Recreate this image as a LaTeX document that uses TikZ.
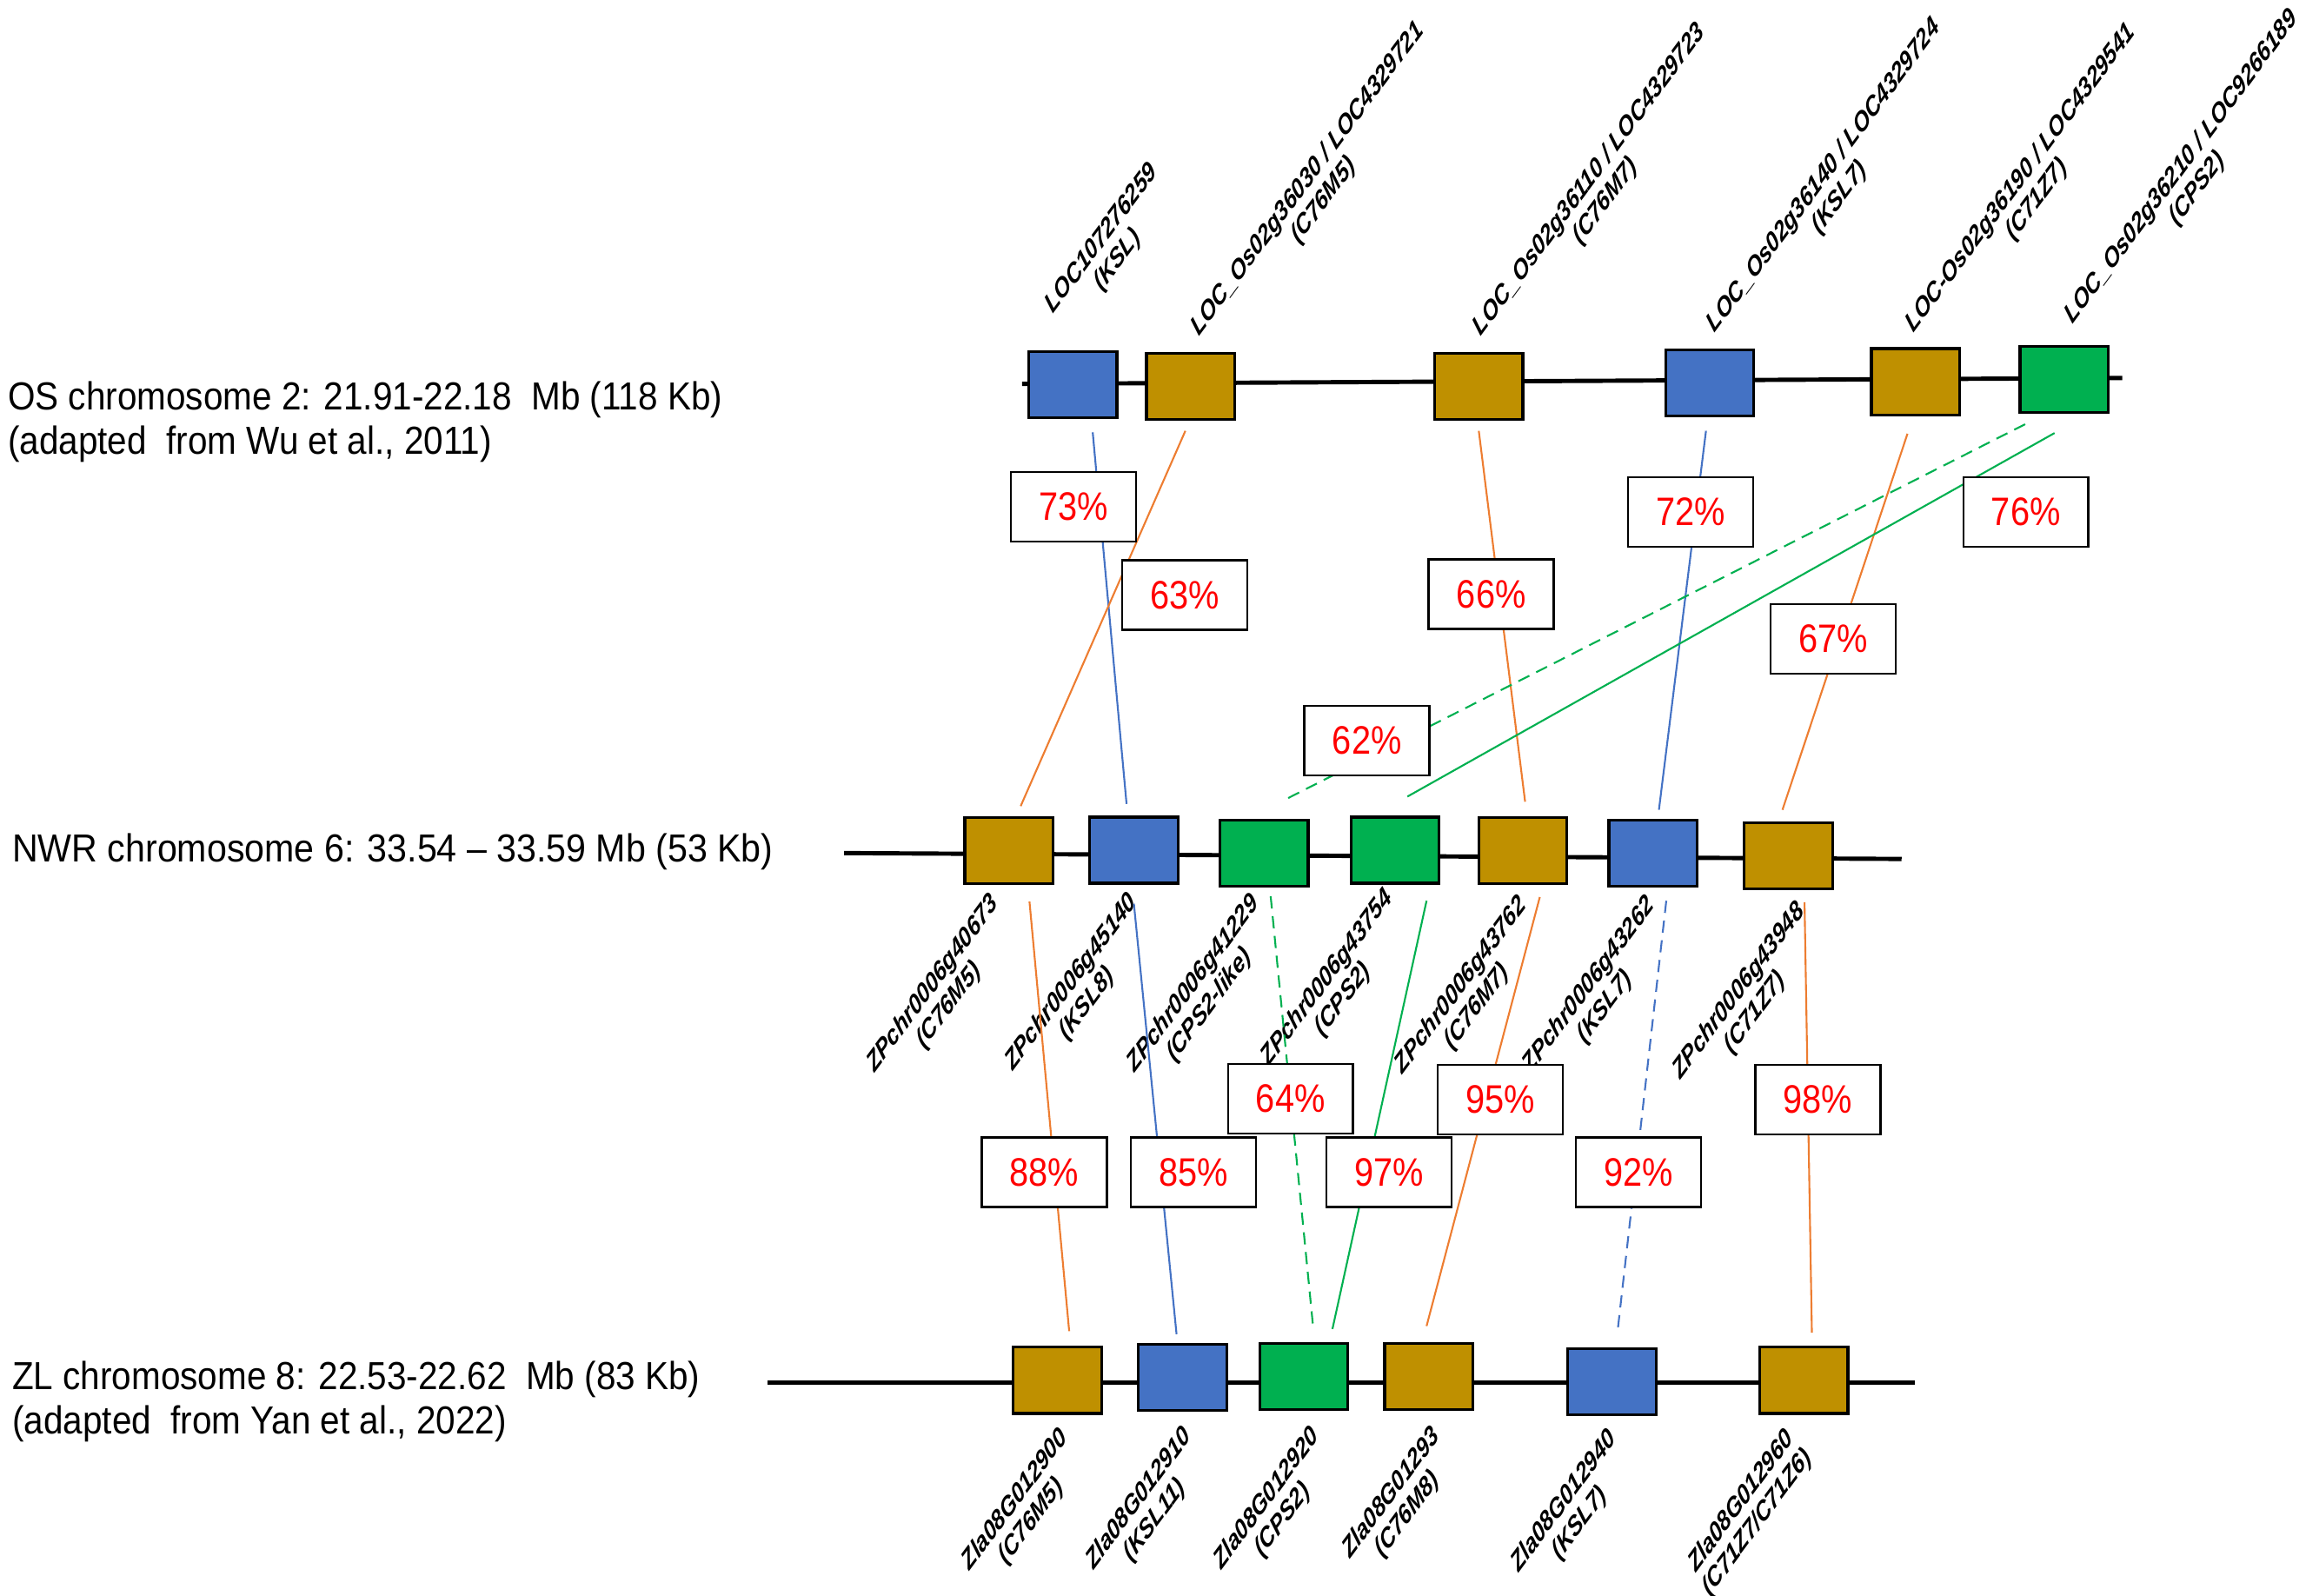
\documentclass[tikz,border=0pt]{standalone}
\usepackage{fontspec}
\setmainfont{Liberation Sans}
\usepackage{graphicx}
\definecolor{kslblue}{HTML}{4472C4}
\definecolor{cypgold}{HTML}{BF9000}
\definecolor{cpsgreen}{HTML}{00B050}
\definecolor{linkorange}{HTML}{ED7D31}
\newcommand{\pc}[1]{\scalebox{0.87}[1]{#1\%}}
\newcommand{\chrtxt}[2][0.9]{\scalebox{#1}[1]{#2}}
\tikzset{
  chrom/.style={line width=1.4pt},
  gene/.style={draw, line width=0.9pt, minimum width=1.015cm, minimum height=0.761cm, inner sep=0pt},
  link/.style={line width=0.6pt},
  dlink/.style={link, dash pattern=on 4pt off 2.5pt},
  pct/.style={draw, fill=white, line width=0.7pt, minimum width=1.44cm, minimum height=0.80cm,
    inner sep=0pt, text=red, font=\fontsize{13}{15}\selectfont},
  uplbl/.style={xscale=0.74, rotate=45, anchor=south west, inner sep=0pt, align=center,
    font=\fontsize{9.2}{10}\selectfont\bfseries\itshape},
  dnlbl/.style={uplbl, anchor=north east},
  chrlbl/.style={anchor=west, align=left, inner sep=0pt, font=\fontsize{12.8}{14.6}\selectfont}
}
\begin{document}
\begin{tikzpicture}[x=0.01692cm, y=-0.01692cm]
  \useasboundingbox (0,0) rectangle (1568,1085);
  % chromosomes
  \draw[chrom] (695,261) -- (1443,257);
  \draw[chrom] (574,580) -- (1293,584);
  \draw[chrom] (522,940) -- (1302,940);
  \node[chrlbl] (osname) at (5,287) {\chrtxt{OS chromosome 2: 21.91-22.18\ \ Mb (118 Kb)}\\\chrtxt{(adapted\ \ from Wu et al., 2011)}};
  \node[chrlbl] (nwname) at (8,579) {\chrtxt[0.915]{NWR chromosome 6: 33.54 – 33.59 Mb (53 Kb)}};
  \node[chrlbl] (zlname) at (8,953) {\chrtxt{ZL chromosome 8: 22.53-22.62\ \ Mb (83 Kb)}\\\chrtxt{(adapted\ \ from Yan et al., 2022)}};
  % genes
  \foreach \nm/\x/\y/\col in {osKSL/729.5/261.5/kslblue, osMfive/809.5/262.5/cypgold,
      osMseven/1005.5/262.5/cypgold, osKSLseven/1162.5/260.5/kslblue,
      osZseven/1302.5/259.5/cypgold, osCPS/1403.5/258/cpsgreen}
    \node[gene, fill=\col] (\nm) at (\x,\y) {};
  \foreach \nm/\x/\y/\col in {nwMfive/686/578.5/cypgold, nwKSLeight/771/578/kslblue,
      nwCPSlike/859.5/580/cpsgreen, nwCPS/948.5/578/cpsgreen, nwMseven/1035.5/578.5/cypgold,
      nwKSLseven/1124/580/kslblue, nwZseven/1216/582/cypgold}
    \node[gene, fill=\col] (\nm) at (\x,\y) {};
  \foreach \nm/\x/\y/\col in {zlMfive/719/938.5/cypgold, zlKSLeleven/804/936.5/kslblue,
      zlCPS/886.5/936/cpsgreen, zlMeight/971.5/936/cypgold,
      zlKSLseven/1096/939.5/kslblue, zlZseven/1226.5/938.5/cypgold}
    \node[gene, fill=\col] (\nm) at (\x,\y) {};
  % gene names
  \node[uplbl] (lbOa) at (729,232) {LOC107276259\\(KSL)};
  \node[uplbl] (lbOb) at (828,247) {LOC\_Os02g36030 / LOC4329721\\(C76M5)};
  \node[uplbl] (lbOc) at (1020,247) {LOC\_Os02g36110 / LOC4329723\\(C76M7)};
  \node[uplbl] (lbOd) at (1179,245) {LOC\_Os02g36140 / LOC4329724\\(KSL7)};
  \node[uplbl] (lbOe) at (1314,245) {LOC-Os02g36190 / LOC4329541\\(C71Z7)};
  \node[uplbl] (lbOf) at (1422,239) {LOC\_Os02g36210 / LOC9266189\\(CPS2)};
  \node[dnlbl] (lbNa) at (672,605) {ZPchr0006g40673\\(C76M5)};
  \node[dnlbl] (lbNb) at (766,604) {ZPchr0006g45140\\(KSL8)};
  \node[dnlbl] (lbNc) at (849,605) {ZPchr0006g41229\\(CPS2-like)};
  \node[dnlbl] (lbNd) at (940,601) {ZPchr0006g43754\\(CPS2)};
  \node[dnlbl] (lbNe) at (1031,606) {ZPchr0006g43762\\(C76M7)};
  \node[dnlbl] (lbNf) at (1118,606) {ZPchr0006g43262\\(KSL7)};
  \node[dnlbl] (lbNg) at (1220,610) {ZPchr0006g43948\\(C71Z7)};
  \node[dnlbl] (lbZa) at (719,968) {Zla08G012900\\(C76M5)};
  \node[dnlbl] (lbZb) at (803,967) {Zla08G012910\\(KSL11)};
  \node[dnlbl] (lbZc) at (890,967) {Zla08G012920\\(CPS2)};
  \node[dnlbl] (lbZd) at (972,967) {Zla08G01293\\(C76M8)};
  \node[dnlbl] (lbZe) at (1092,969) {Zla08G012940\\(KSL7)};
  \node[dnlbl] (lbZf) at (1214,967) {Zla08G012960\\(C71Z7/C71Z6)};
  % OS -> NWR
  \draw[link, kslblue] ([shift={(13.5,9)}]osKSL.south) -- ([shift={(-5,-8)}]nwKSLeight.north);
  \draw[link, linkorange] ([shift={(-3.5,7)}]osMfive.south) -- ([shift={(8,-7)}]nwMfive.north);
  \draw[link, linkorange] ([shift={(0,7)}]osMseven.south) -- ([shift={(1.5,-10)}]nwMseven.north);
  \draw[link, kslblue] ([shift={(-2.5,9)}]osKSLseven.south) -- ([shift={(4,-6)}]nwKSLseven.north);
  \draw[link, linkorange] ([shift={(-5.5,12)}]osZseven.south) -- ([shift={(-4,-8)}]nwZseven.north);
  \draw[dlink, cpsgreen] ([shift={(-26.5,7)}]osCPS.south) -- ([shift={(12.5,-12)}]nwCPSlike.north);
  \draw[link, cpsgreen] ([shift={(-6.5,13)}]osCPS.south) -- ([shift={(8.5,-13)}]nwCPS.north);
  % NWR -> ZL
  \draw[link, linkorange] ([shift={(14,11)}]nwMfive.south) -- ([shift={(8,-10)}]zlMfive.north);
  \draw[link, kslblue] ([shift={(0,13)}]nwKSLeight.south) -- ([shift={(-4,-6)}]zlKSLeleven.north);
  \draw[dlink, cpsgreen] ([shift={(4.5,6)}]nwCPSlike.south) -- ([shift={(6.5,-9)}]zlCPS.north);
  \draw[link, cpsgreen] ([shift={(21.5,11)}]nwCPS.south) -- ([shift={(19.5,-9)}]zlCPS.north);
  \draw[link, linkorange] ([shift={(11.5,8)}]nwMseven.south) -- ([shift={(-1.5,-11)}]zlMeight.north);
  \draw[dlink, kslblue] ([shift={(9,9)}]nwKSLseven.south) -- ([shift={(4,-12)}]zlKSLseven.north);
  \draw[link, linkorange] ([shift={(11,8)}]nwZseven.south) -- ([shift={(5.5,-9)}]zlZseven.north);
  % identities
  \foreach \nm/\x/\y in {73/730/344.5, 63/805.5/404.5, 66/1014/404, 72/1149.5/348,
      76/1377.5/348, 67/1246.5/434.5, 62/929.5/503.5}
    \node[pct] (p\nm) at (\x,\y) {\pc{\nm}};
  \foreach \nm/\x/\y in {64/877.5/747, 95/1020/747.5, 98/1236/747.5, 88/710/797,
      85/811.5/797, 97/944.5/797, 92/1114/797}
    \node[pct] (q\nm) at (\x,\y) {\pc{\nm}};
\end{tikzpicture}
\end{document}
